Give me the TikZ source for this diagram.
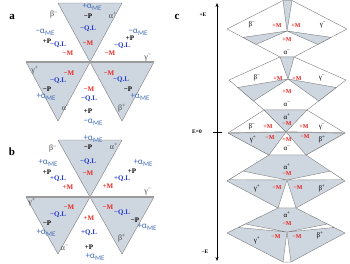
\documentclass[tikz,border=0pt]{standalone}
\usepackage{fontspec}
\setmainfont{Liberation Serif}
\newfontfamily\mefont{Carlito}
\usetikzlibrary{arrows.meta, calc}
\definecolor{domgray}{RGB}{206,214,223}
\definecolor{wallgray}{RGB}{125,125,125}
\definecolor{axisgray}{RGB}{155,155,155}
\definecolor{mred}{RGB}{235,40,35}
\definecolor{qlblue}{RGB}{35,60,205}
\definecolor{meblue}{RGB}{70,112,185}
\definecolor{greekgray}{RGB}{70,70,70}
\newcommand{\aME}[1]{#1α\raisebox{-0.5ex}{\fontsize{7}{7}\selectfont ME}}
\newcommand{\sdom}[2]{#1\textsuperscript{#2}}
\tikzset{
  % Domain styles
  domfill/.style={fill=domgray, draw=wallgray, line width=0.4pt, line join=round},
  blankfill/.style={fill=white, draw=wallgray, line width=0.4pt, line join=round},
  midline/.style={draw=axisgray, line width=#1},
  midline/.default={1.6pt},
  % Label styles
  lab/.style={inner sep=0pt, font=\bfseries\fontsize{7}{7}\selectfont},
  mlab/.style={lab, text=mred},
  qlab/.style={lab, text=qlblue},
  plab/.style={lab, text=black},
  melab/.style={inner sep=0pt, text=meblue, font=\mefont\fontsize{9}{9}\selectfont},
  glab/.style={inner sep=0pt, text=greekgray, font=\fontsize{8}{8}\selectfont},
  panel/.style={inner sep=0pt, font=\bfseries\fontsize{11}{11}\selectfont},
  smlab/.style={inner sep=0pt, text=mred, font=\bfseries\fontsize{6}{6}\selectfont},
  sglab/.style={inner sep=0pt, text=black, font=\fontsize{7}{7}\selectfont},
  elab/.style={inner sep=0pt, font=\bfseries\fontsize{5.5}{5.5}\selectfont},
  earrow/.style={{Stealth[length=4pt, width=3pt]}-{Stealth[length=4pt, width=3pt]}, line width=0.6pt},
}

\begin{document}
\begin{tikzpicture}[x=1pt, y=-1pt]
    \useasboundingbox (0,0) rectangle (350,263);

    % Panel a: domains
    \coordinate (aC) at (90,62);
    \coordinate (aTL) at (58,3);
    \coordinate (aTR) at (122,3);
    \coordinate (aL) at (26,62);
    \coordinate (aR) at (154,62);
    \coordinate (aBL) at (58,121);
    \coordinate (aBR) at (122,121);
    \filldraw[domfill] (aTL) -- (aTR) -- (aC) -- cycle;
    \filldraw[domfill] (aL) -- (aC) -- (aBL) -- cycle;
    \filldraw[domfill] (aC) -- (aR) -- (aBR) -- cycle;
    \draw[midline] (aL) -- (aR);

    % Panel a: labels
    \node[panel] (aname) at (12,17) {a};
    \node[glab] (aBm) at (54,15) {\sdom{β}{−}};
    \node[glab] (aAp) at (113,15) {\sdom{α}{+}};
    \node[melab] (aMEt) at (92,7) {\aME{+}};
    \node[plab] (aPt) at (88,16) {−P};
    \node[qlab] (aQt) at (88,29) {−Q.L};
    \node[mlab] (aMt) at (88,43) {−M};
    \node[melab] (aMEl) at (45,32) {\aME{−}};
    \node[plab] (aPl) at (47,41) {+P};
    \node[qlab] (aQl) at (58,45) {−Q.L};
    \node[mlab] (aMl) at (68,53) {−M};
    \node[melab] (aMEr) at (138,32) {\aME{−}};
    \node[plab] (aPr) at (130,38) {+P};
    \node[qlab] (aQr) at (122,46) {−Q.L};
    \node[mlab] (aMr) at (110,53) {−M};
    \node[glab] (aGm) at (148,58) {\sdom{γ}{−}};
    \node[glab] (aGp) at (35,70) {\sdom{γ}{+}};
    \node[mlab] (aMll) at (69,73) {−M};
    \node[qlab] (aQll) at (58,81) {−Q.L};
    \node[plab] (aPll) at (47,89) {−P};
    \node[melab] (aMEll) at (46,97) {\aME{+}};
    \node[glab] (aAm) at (66,108) {\sdom{α}{−}};
    \node[mlab] (aMb) at (89,89) {−M};
    \node[qlab] (aQb) at (89,99) {−Q.L};
    \node[plab] (aPb) at (88,111) {+P};
    \node[melab] (aMEb) at (93,122) {\aME{−}};
    \node[mlab] (aMlr) at (109,73) {−M};
    \node[qlab] (aQlr) at (121,80) {−Q.L};
    \node[plab] (aPlr) at (128,89) {−P};
    \node[melab] (aMElr) at (140,97) {\aME{+}};
    \node[glab] (aBp) at (122,108) {\sdom{β}{+}};

    % Panel b: domains
    \coordinate (bC) at (90,197);
    \coordinate (bTL) at (58,140);
    \coordinate (bTR) at (122,140);
    \coordinate (bL) at (26,197);
    \coordinate (bR) at (154,197);
    \coordinate (bBL) at (58,254);
    \coordinate (bBR) at (122,254);
    \filldraw[domfill] (bTL) -- (bTR) -- (bC) -- cycle;
    \filldraw[domfill] (bL) -- (bC) -- (bBL) -- cycle;
    \filldraw[domfill] (bC) -- (bR) -- (bBR) -- cycle;
    \draw[midline] (bL) -- (bR);

    % Panel b: labels
    \node[panel] (bname) at (12,152) {b};
    \node[glab] (bBm) at (53,149) {\sdom{β}{−}};
    \node[glab] (bAp) at (114,146) {\sdom{α}{+}};
    \node[melab] (bMEt) at (93,139) {\aME{+}};
    \node[plab] (bPt) at (88,147) {−P};
    \node[qlab] (bQt) at (88,162) {−Q.L};
    \node[mlab] (bMt) at (88,173) {−M};
    \node[melab] (bMEl) at (48,163) {\aME{+}};
    \node[plab] (bPl) at (47,172) {+P};
    \node[qlab] (bQl) at (58,179) {+Q.L};
    \node[mlab] (bMl) at (68,187) {+M};
    \node[melab] (bMEr) at (143,163) {\aME{+}};
    \node[plab] (bPr) at (132,171) {+P};
    \node[qlab] (bQr) at (122,179) {+Q.L};
    \node[mlab] (bMr) at (108,186) {+M};
    \node[glab] (bGm) at (148,192) {\sdom{γ}{−}};
    \node[glab] (bGp) at (32,202) {\sdom{γ}{+}};
    \node[mlab] (bMll) at (69,207) {−M};
    \node[qlab] (bQll) at (58,215) {−Q.L};
    \node[plab] (bPll) at (47,223) {−P};
    \node[melab] (bMEll) at (46,233) {\aME{+}};
    \node[glab] (bAm) at (65,248) {\sdom{α}{−}};
    \node[mlab] (bMb) at (89,218) {+M};
    \node[qlab] (bQb) at (89,233) {+Q.L};
    \node[plab] (bPb) at (89,247) {+P};
    \node[melab] (bMEb) at (95,257) {\aME{+}};
    \node[mlab] (bMlr) at (108,207) {−M};
    \node[qlab] (bQlr) at (122,213) {−Q.L};
    \node[plab] (bPlr) at (135,220) {−P};
    \node[melab] (bMElr) at (147,227) {\aME{+}};
    \node[glab] (bBp) at (122,238) {\sdom{β}{+}};

    % Panel c: field axis
    \node[panel] (cname) at (177,17) {c};
    \coordinate (etop) at (217,3);
    \coordinate (ebot) at (217,261);
    \coordinate (tickl) at (213,132);
    \coordinate (tickr) at (222,132);
    \draw[earrow] (ebot) -- (etop);
    \draw[line width=0.6pt] (tickl) -- (tickr);
    \node[elab] (eplus) at (203,15) {+E};
    \node[elab] (ezero) at (197,132) {E=0};
    \node[elab] (eminus) at (205,252) {−E};

    % Level 1 (+E)
    \coordinate (C1) at (287,31);
    \coordinate (L1) at (227,29);
    \coordinate (R1) at (347,29);
    \coordinate (W0l) at (283,0.5);
    \coordinate (W0r) at (292,0.5);
    \coordinate (W1l) at (280,57);
    \coordinate (W1r) at (294,57);
    \filldraw[blankfill] (L1) -- (W0l) -- (W0r) -- (R1) -- (W1r) -- (W1l) -- cycle;
    \filldraw[domfill] (C1) -- (W0l) -- (W0r) -- cycle;
    \filldraw[domfill] (C1) -- ($(L1)!0.3!(W1l)$) -- ($(L1)!0.55!(W1l)$) -- cycle;
    \filldraw[domfill] (C1) -- ($(R1)!0.3!(W1r)$) -- ($(R1)!0.55!(W1r)$) -- cycle;

    % Level 2
    \coordinate (C2) at (288,79);
    \coordinate (L2) at (229,80);
    \coordinate (R2) at (346,80);
    \coordinate (W2l) at (264,110);
    \coordinate (W2r) at (307,110);
    \filldraw[blankfill] (L2) -- (W1l) -- (W1r) -- (R2) -- (W2r) -- (W2l) -- cycle;
    \filldraw[domfill] (C2) -- (W1l) -- (W1r) -- cycle;
    \filldraw[domfill] (C2) -- ($(L2)!0.25!(W2l)$) -- ($(L2)!0.7!(W2l)$) -- cycle;
    \filldraw[domfill] (C2) -- ($(R2)!0.25!(W2r)$) -- ($(R2)!0.7!(W2r)$) -- cycle;

    % Level 3 (E=0)
    \coordinate (C3) at (286,132);
    \coordinate (L3) at (228,133);
    \coordinate (R3) at (345,133);
    \coordinate (W3l) at (269,155);
    \coordinate (W3r) at (306,155);
    \filldraw[blankfill] (L3) -- (W2l) -- (W2r) -- (R3) -- (W3r) -- (W3l) -- cycle;
    \filldraw[domfill] (C3) -- (W2l) -- (W2r) -- cycle;
    \filldraw[domfill] (C3) -- (L3) -- (W3l) -- cycle;
    \filldraw[domfill] (C3) -- (R3) -- (W3r) -- cycle;
    \draw[midline=0.9pt] (L3) -- (C3) -- (R3);

    % Level 4
    \coordinate (C4) at (287,180);
    \coordinate (L4) at (227,181);
    \coordinate (R4) at (345,181);
    \coordinate (W4l) at (278,208);
    \coordinate (W4r) at (296,208);
    \filldraw[domfill] (L4) -- (W3l) -- (W3r) -- (R4) -- (W4r) -- (W4l) -- cycle;
    \filldraw[blankfill] (C4) -- ($(L4)!0.05!(W3l)$) -- ($(L4)!0.38!(W3l)$) -- cycle;
    \filldraw[blankfill] (C4) -- ($(R4)!0.05!(W3r)$) -- ($(R4)!0.38!(W3r)$) -- cycle;
    \filldraw[blankfill] (C4) -- (W4l) -- (W4r) -- cycle;

    % Level 5 (-E)
    \coordinate (C5) at (287,232);
    \coordinate (L5) at (227,233);
    \coordinate (R5) at (345,233);
    \coordinate (W5l) at (283,262);
    \coordinate (W5r) at (291,262);
    \filldraw[domfill] (L5) -- (W4l) -- (W4r) -- (R5) -- (W5r) -- (W5l) -- cycle;
    \filldraw[blankfill] (C5) -- ($(L5)!0.22!(W4l)$) -- ($(L5)!0.36!(W4l)$) -- cycle;
    \filldraw[blankfill] (C5) -- ($(R5)!0.22!(W4r)$) -- ($(R5)!0.36!(W4r)$) -- cycle;
    \filldraw[blankfill] (C5) -- (W5l) -- (W5r) -- cycle;

    % Panel c: labels
    \node[sglab] (c1Bm) at (252,25) {\sdom{β}{−}};
    \node[smlab] (c1Ml) at (277,26) {+M};
    \node[smlab] (c1Mr) at (296,26) {+M};
    \node[sglab] (c1Gm) at (323,25) {\sdom{γ}{−}};
    \node[smlab] (c1Mb) at (287,40) {+M};
    \node[sglab] (c1Am) at (287,52) {\sdom{α}{−}};
    \node[sglab] (c2Bm) at (257,78) {\sdom{β}{−}};
    \node[smlab] (c2Ml) at (278,79) {+M};
    \node[smlab] (c2Mr) at (297,79) {+M};
    \node[sglab] (c2Gm) at (322,78) {\sdom{γ}{−}};
    \node[smlab] (c2Mb) at (287,92) {+M};
    \node[sglab] (c2Am) at (287,104) {\sdom{α}{−}};
    \node[sglab] (c3Ap) at (287,117) {\sdom{α}{+}};
    \node[smlab] (c3Mt) at (287,123.5) {−M};
    \node[sglab] (c3Bm) at (252,127) {\sdom{β}{−}};
    \node[smlab] (c3Ml) at (268,127) {+M};
    \node[smlab] (c3Mr) at (304,127) {+M};
    \node[sglab] (c3Gm) at (322,127) {\sdom{γ}{−}};
    \node[sglab] (c3Gp) at (253,139) {\sdom{γ}{+}};
    \node[smlab] (c3Mll) at (270,138) {−M};
    \node[smlab] (c3Mlr) at (305,137) {−M};
    \node[sglab] (c3Bp) at (322,139) {\sdom{β}{+}};
    \node[smlab] (c3Mb) at (287,140) {+M};
    \node[sglab] (c3Am) at (287,148) {\sdom{α}{−}};
    \node[sglab] (c4Ap) at (287,167) {\sdom{α}{+}};
    \node[smlab] (c4Mt) at (287,174) {−M};
    \node[sglab] (c4Gp) at (257,188) {\sdom{γ}{+}};
    \node[smlab] (c4Ml) at (277,188) {−M};
    \node[smlab] (c4Mr) at (298,188) {−M};
    \node[sglab] (c4Bp) at (322,188) {\sdom{β}{+}};
    \node[sglab] (c5Ap) at (287,215) {\sdom{α}{+}};
    \node[smlab] (c5Mt) at (287,224) {−M};
    \node[sglab] (c5Gp) at (257,240) {\sdom{γ}{+}};
    \node[smlab] (c5Ml) at (276,237) {−M};
    \node[smlab] (c5Mr) at (297,237) {−M};
    \node[sglab] (c5Bp) at (320,235) {\sdom{β}{+}};
\end{tikzpicture}
\end{document}
